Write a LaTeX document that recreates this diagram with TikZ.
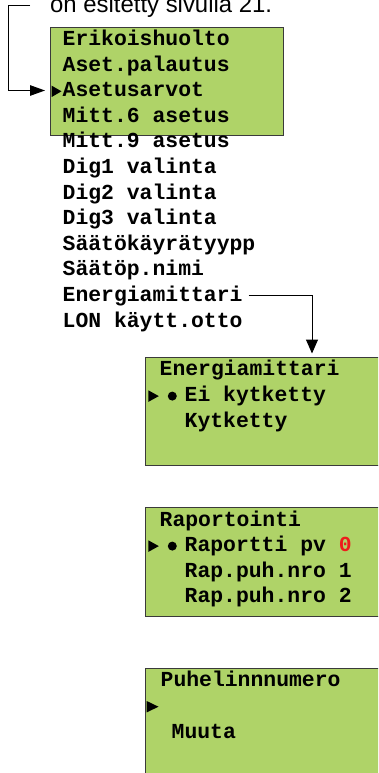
\documentclass[tikz,border=0pt]{standalone}
\usepackage{fontspec}
\setmainfont{Liberation Sans}
\setmonofont{Liberation Mono}
\usetikzlibrary{arrows.meta}
\definecolor{lcdgreen}{HTML}{AFD368}
\definecolor{lcdedge}{HTML}{3A3A3A}
\definecolor{valred}{HTML}{EE1C1C}
\tikzset{
  box/.style={draw=lcdedge, line width=1pt, fill=lcdgreen, anchor=north west, inner sep=0pt},
  item/.style={anchor=base west, inner sep=0pt, font=\fontsize{21.4}{25}\selectfont\ttfamily\bfseries},
  conn/.style={draw=black, line width=1pt},
  tipleft/.style={-{Triangle[length=15pt,width=10.5pt]}},
  tipdown/.style={-{Triangle[length=14pt,width=12pt]}},
  cursor/.style={fill=black},
}
\begin{document}
\begin{tikzpicture}[x=1pt,y=-1pt]
\useasboundingbox (0,0) rectangle (378,773);
\clip (0,0) rectangle (378,773);
% top caption (cut off)
\node[anchor=base west, inner sep=0pt, font=\fontsize{23.9}{28}\selectfont] (cap) at (50,12.7) {on esitetty sivulla 21.};
% box 1
\node[box, minimum width=233pt, minimum height=108pt] (b1) at (50,27) {};
\foreach \t [count=\i from 0] in {Erikoishuolto,Aset.palautus,Asetusarvot,Mitt.6 asetus,Mitt.9 asetus,Dig1 valinta,Dig2 valinta,Dig3 valinta,Säätökäyrätyypp,Säätöp.nimi,Energiamittari,LON käytt.otto}
  \node[item] (m\i) at (62.5,45.5+25.6*\i) {\t};
\fill[cursor] (51.7,85.7) -- (51.7,97) -- (61.5,91.3) -- cycle;
\coordinate (a0) at (30,6);
\coordinate (a1) at (45,90.5);
\draw[conn,tipleft] (a0) -- (8,6) |- (a1);
% box 2
\node[box, minimum width=240pt, minimum height=108pt] (b2) at (145,357) {};
\draw[conn,tipdown] ([xshift=6pt,yshift=6.4pt]m10.base east) -| ([xshift=167pt,yshift=3.5pt]b2.north west);
\node[item] (e0) at (159.5,375.8) {Energiamittari};
\fill[cursor] (148.3,390.3) -- (148.3,401.9) -- (158.8,396.1) -- cycle;
\fill (172.3,396.1) circle (4.5pt);
\node[item] (e1) at (184.5,401.7) {Ei kytketty};
\node[item] (e2) at (184.5,427.0) {Kytketty};
% box 3
\node[box, minimum width=240pt, minimum height=109pt] (b3) at (145,507) {};
\node[item] (r0) at (159.5,526) {Raportointi};
\fill[cursor] (148.3,540.3) -- (148.3,551.9) -- (158.8,546.1) -- cycle;
\fill (172.3,546.1) circle (4.5pt);
\node[item] (r1) at (184.5,551.5) {Raportti pv \textcolor{valred}{0}};
\node[item] (r2) at (184.5,577.2) {Rap.puh.nro 1};
\node[item] (r3) at (184.5,602.7) {Rap.puh.nro 2};
% box 4
\node[box, minimum width=240pt, minimum height=120pt] (b4) at (145,668) {};
\node[item] (p0) at (160.5,686.7) {Puhelinnnumero};
\fill[cursor] (146.7,701.0) -- (146.7,712.4) -- (158.5,706.7) -- cycle;
\node[item] (p1) at (171.5,738.3) {Muuta};
\end{tikzpicture}
\end{document}
